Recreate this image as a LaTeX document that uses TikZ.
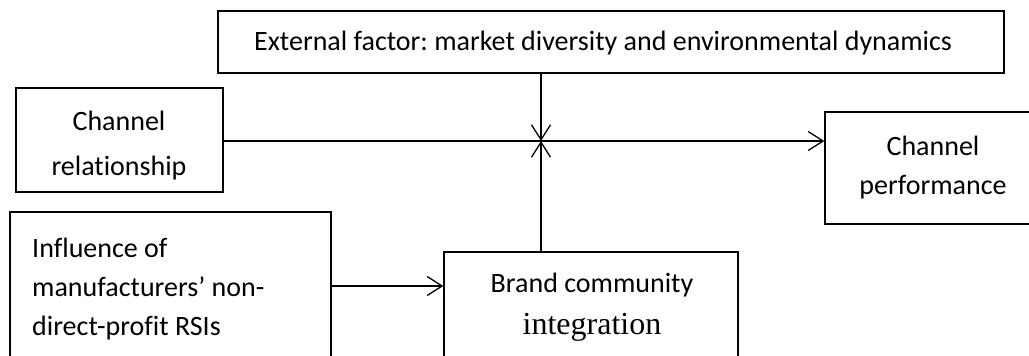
\documentclass[tikz,border=0pt]{standalone}
\usepackage{fontspec}
\setmainfont{Carlito}[Ligatures=NoCommon]
\newfontfamily\serifface{Liberation Serif}
\usetikzlibrary{arrows.meta}
\begin{document}
\begin{tikzpicture}[x=1pt,y=-1pt,
  box/.style={draw, line width=1.3pt, rectangle, inner sep=0pt},
  conn/.style={line width=1.3pt, -{Straight Barb[length=15pt,width=19pt,line width=1.3pt]}},
  txt/.style={inner sep=0pt, align=center, font=\frenchspacing\fontsize{28}{39}\selectfont}]
\useasboundingbox (0,0) rectangle (1029,356);
\clip (0,0) rectangle (1029,356);
% boxes
\node[box, minimum width=786pt, minimum height=62pt] (ext) at (611,42) {};
\node[box, minimum width=207pt, minimum height=104pt] (rel) at (119.5,140) {};
\node[box, minimum width=215pt, minimum height=112pt] (perf) at (932.5,168) {};
\node[box, minimum width=321pt, minimum height=158pt] (infl) at (170.5,291) {};
\node[box, minimum width=294pt, minimum height=118pt] (brand) at (591,311) {};
% texts
\node[txt] (exttext) at (603,43) {External factor: market diversity and environmental dynamics};
\node[txt, font=\frenchspacing\fontsize{28}{45}\selectfont] (reltext) at (119,146) {Channel\\relationship};
\node[txt] (perftext) at (933,168) {Channel\\performance};
\node[txt, align=left, anchor=west] (infltext) at (32,289) {Influence of\\manufacturers’ non-\\direct-profit RSIs};
\node[txt, font=\frenchspacing\fontsize{28}{42}\selectfont] (brandtext) at (592,307) {Brand community\\{\serifface\fontsize{32}{42}\selectfont integration}};
% connectors
\coordinate (m) at (541,141);
\draw[conn] (rel.east |- m) -- (perf.west |- m);
\draw[conn] (m |- ext.south) -- (m);
\draw[conn] (m |- brand.north) -- (m);
\draw[conn] (infl.east |- 0,286) -- (brand.west |- 0,286);
\end{tikzpicture}
\end{document}
